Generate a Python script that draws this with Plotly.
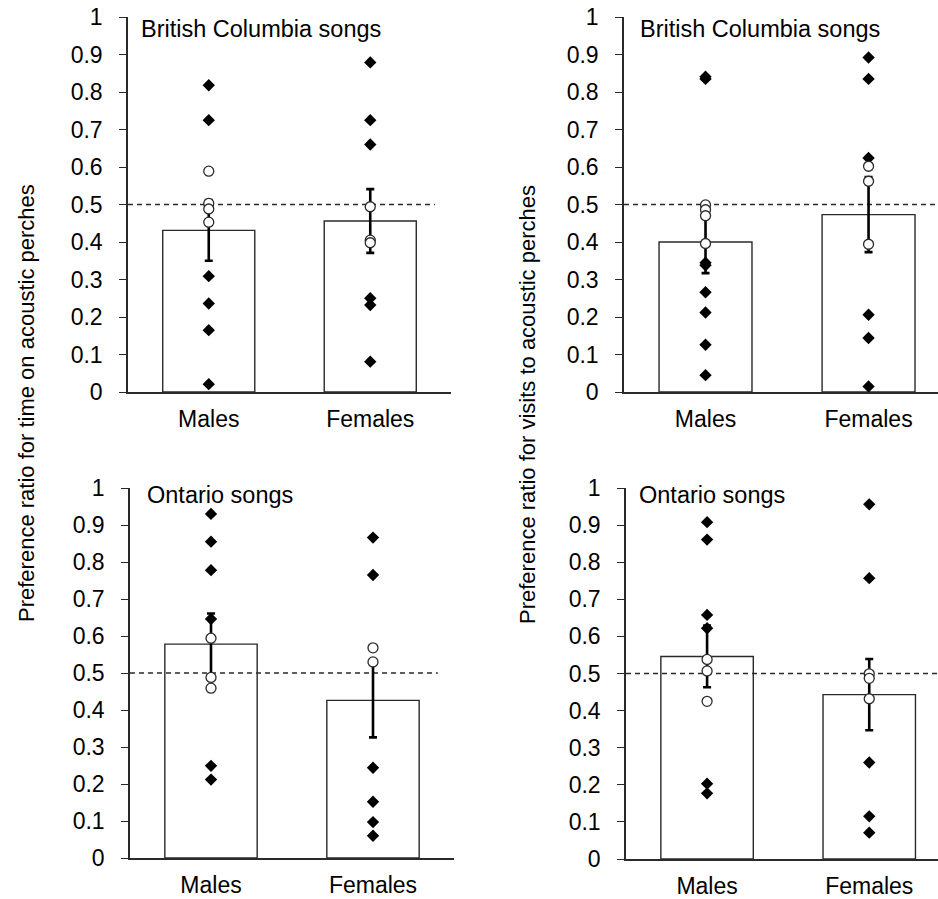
import plotly.graph_objects as go

# ---------------- data ----------------
categories = ["Males", "Females"]
ytick_vals = [0, 0.1, 0.2, 0.3, 0.4, 0.5, 0.6, 0.7, 0.8, 0.9, 1]
ytick_text = ["0", "0.1", "0.2", "0.3", "0.4", "0.5", "0.6", "0.7", "0.8", "0.9", "1"]
panel_titles = ["British Columbia songs", "British Columbia songs", "Ontario songs", "Ontario songs"]
y_titles = ["Preference ratio for time on acoustic perches", "Preference ratio for visits to acoustic perches"]

# Top-left: BC songs, time
tl_means = [0.431, 0.456]
tl_err = [0.081, 0.085]
tl_m_diamonds = [0.818, 0.725, 0.309, 0.236, 0.165, 0.021]
tl_m_circles = [0.589, 0.503, 0.488, 0.453]
tl_f_diamonds = [0.879, 0.725, 0.660, 0.250, 0.232, 0.081]
tl_f_circles = [0.494, 0.405, 0.398]

# Top-right: BC songs, visits
tr_means = [0.400, 0.473]
tr_err = [0.083, 0.100]
tr_m_diamonds = [0.841, 0.835, 0.345, 0.338, 0.266, 0.212, 0.126, 0.045]
tr_m_circles = [0.499, 0.486, 0.470, 0.396]
tr_f_diamonds = [0.892, 0.835, 0.624, 0.206, 0.144, 0.015]
tr_f_circles = [0.602, 0.562, 0.394]

# Bottom-left: Ontario songs, time
bl_means = [0.578, 0.426]
bl_err = [0.083, 0.100]
bl_m_diamonds = [0.930, 0.855, 0.778, 0.646, 0.249, 0.212]
bl_m_circles = [0.594, 0.488, 0.459]
bl_f_diamonds = [0.866, 0.765, 0.244, 0.152, 0.097, 0.060]
bl_f_circles = [0.568, 0.530]

# Bottom-right: Ontario songs, visits
br_means = [0.546, 0.443]
br_err = [0.083, 0.096]
br_m_diamonds = [0.908, 0.861, 0.658, 0.622, 0.203, 0.177]
br_m_circles = [0.538, 0.507, 0.425]
br_f_diamonds = [0.956, 0.757, 0.260, 0.115, 0.071]
br_f_circles = [0.499, 0.487, 0.432]

# ---------------- layout geometry ----------------
W, H = 938, 899
FONT = "Liberation Sans, Arial, sans-serif"
AX = "#2a2a2a"

panels = [
    dict(ax="", means=tl_means, err=tl_err, md=tl_m_diamonds, mc=tl_m_circles,
         fd=tl_f_diamonds, fc=tl_f_circles, xpx=(128, 451), ypx=(17, 392),
         xr=(-0.5, 1.5), dash_end=1.4, title=panel_titles[0], tpos=(139, 29)),
    dict(ax="2", means=tr_means, err=tr_err, md=tr_m_diamonds, mc=tr_m_circles,
         fd=tr_f_diamonds, fc=tr_f_circles, xpx=(624, 938), ypx=(17, 392),
         xr=(-0.5, 1.426), dash_end=1.426, title=panel_titles[1], tpos=(638, 29)),
    dict(ax="3", means=bl_means, err=bl_err, md=bl_m_diamonds, mc=bl_m_circles,
         fd=bl_f_diamonds, fc=bl_f_circles, xpx=(130, 454), ypx=(488, 858),
         xr=(-0.5, 1.5), dash_end=1.4, title=panel_titles[2], tpos=(145, 495)),
    dict(ax="4", means=br_means, err=br_err, md=br_m_diamonds, mc=br_m_circles,
         fd=br_f_diamonds, fc=br_f_circles, xpx=(626, 938), ypx=(488, 859),
         xr=(-0.5, 1.424), dash_end=1.424, title=panel_titles[3], tpos=(637, 495)),
]

fig = go.Figure()
layout_axes = {}
annotations = []

for p in panels:
    xa = "x" + p["ax"]
    ya = "y" + p["ax"]
    cat_x = list(range(len(categories)))
    # bars
    fig.add_trace(go.Bar(
        x=cat_x, y=p["means"], width=0.57, xaxis=xa, yaxis=ya,
        marker=dict(color="white", line=dict(color=AX, width=1.4)),
        showlegend=False, hoverinfo="skip"))
    # dashed reference line at 0.5
    fig.add_trace(go.Scatter(
        x=[p["xr"][0], p["dash_end"]], y=[0.5, 0.5], mode="lines", xaxis=xa, yaxis=ya,
        line=dict(color=AX, width=1.3, dash="5px,4px"),
        showlegend=False, hoverinfo="skip"))
    # error bars
    fig.add_trace(go.Scatter(
        x=cat_x, y=p["means"], mode="markers", xaxis=xa, yaxis=ya,
        marker=dict(size=1, color="rgba(0,0,0,0)"),
        error_y=dict(type="data", array=p["err"], visible=True,
                     color="black", thickness=2.6, width=4),
        showlegend=False, hoverinfo="skip"))
    # diamonds
    dx = [0] * len(p["md"]) + [1] * len(p["fd"])
    dy = p["md"] + p["fd"]
    fig.add_trace(go.Scatter(
        x=dx, y=dy, mode="markers", xaxis=xa, yaxis=ya,
        marker=dict(symbol="diamond", size=9.5, color="black", line=dict(width=0)),
        showlegend=False))
    # open circles
    cx = [0] * len(p["mc"]) + [1] * len(p["fc"])
    cy = p["mc"] + p["fc"]
    fig.add_trace(go.Scatter(
        x=cx, y=cy, mode="markers", xaxis=xa, yaxis=ya,
        marker=dict(symbol="circle", size=10, color="white", line=dict(color=AX, width=1.3)),
        showlegend=False))

    x0, x1 = p["xpx"]
    ytop, ybot = p["ypx"]
    layout_axes["xaxis" + p["ax"]] = dict(
        domain=[x0 / W, min(x1 / W, 1)], range=list(p["xr"]), anchor=ya,
        showline=True, linecolor=AX, linewidth=1.5, ticks="", showgrid=False,
        zeroline=False, tickvals=cat_x, ticktext=categories, automargin=False,
        tickfont=dict(family=FONT, size=23, color="black"), ticklabelstandoff=6,
        fixedrange=True)
    layout_axes["yaxis" + p["ax"]] = dict(
        domain=[1 - ybot / H, 1 - ytop / H], range=[0, 1], anchor=xa,
        showline=True, linecolor=AX, linewidth=1.5, ticks="outside", ticklen=7,
        tickwidth=1.3, tickcolor=AX, showgrid=False, zeroline=False,
        tickvals=ytick_vals, ticktext=ytick_text, automargin=False,
        tickfont=dict(family=FONT, size=23, color="black"), ticklabelstandoff=12,
        fixedrange=True)
    annotations.append(dict(
        text=p["title"], xref="paper", yref="paper", x=p["tpos"][0] / W,
        y=1 - p["tpos"][1] / H, xanchor="left", yanchor="middle", showarrow=False,
        font=dict(family=FONT, size=23.5, color="black")))

annotations.append(dict(
    text=y_titles[0], xref="paper", yref="paper", x=26 / W, y=1 - 403 / H,
    xanchor="center", yanchor="middle", textangle=-90, showarrow=False,
    font=dict(family=FONT, size=22, color="black")))
annotations.append(dict(
    text=y_titles[1], xref="paper", yref="paper", x=527 / W, y=1 - 405 / H,
    xanchor="center", yanchor="middle", textangle=-90, showarrow=False,
    font=dict(family=FONT, size=22, color="black")))

fig.update_layout(
    width=W, height=H, margin=dict(l=0, r=0, t=0, b=0, autoexpand=False),
    paper_bgcolor="white", plot_bgcolor="white",
    annotations=annotations, showlegend=False, barmode="overlay",
    **layout_axes)

fig.write_html("out.html")
